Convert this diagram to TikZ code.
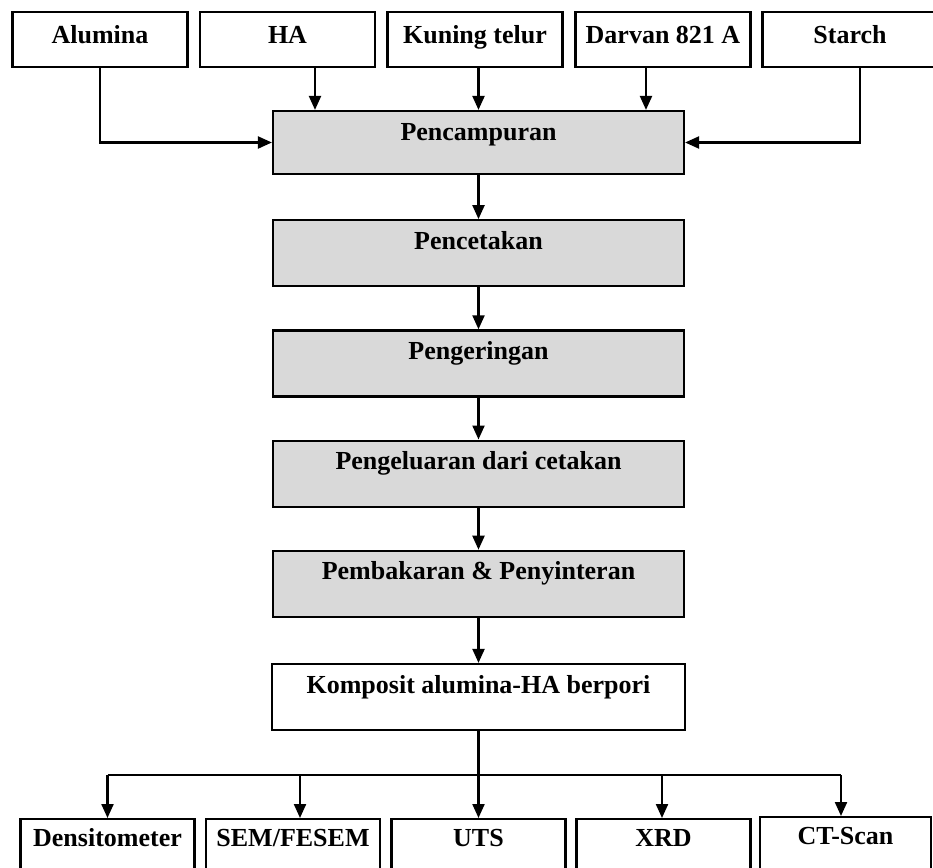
\documentclass[tikz,border=0pt]{standalone}
\usepackage{fontspec}
\setmainfont{Liberation Serif}
\usetikzlibrary{positioning, arrows.meta, calc}
\tikzset{
    box/.style = {draw, line width=1.1pt, minimum height=0pt, inner ysep=0pt, font=\fontsize{13}{15}\selectfont\bfseries},
}
\tikzset{
    bahan/.style = {box, minimum width=87.5pt, text height=15.5pt, text depth=12pt},
    proses/.style = {box, fill=black!15, minimum width=205.5pt, text height=14.5pt, text depth=18.5pt},
    uji/.style = {box, anchor=north, minimum width=87pt, text height=13.5pt, text depth=30pt},
    alir/.style = {draw, line width=1.1pt, -{Triangle[length=7pt, width=6pt]}},
}

\begin{document}
\begin{tikzpicture}[x=0.5pt, y=-0.5pt, node distance=21pt]
            \clip (0,0) rectangle (933,868);
            \node[bahan] (al) at (100,39.5) {Alumina};
            \node[bahan] (ha) at (287.5,39.5) {HA};
            \node[bahan] (kt) at (475,39.5) {Kuning telur};
            \node[bahan] (dv) at (663,39.5) {Darvan 821 A};
            \node[bahan] (st) at (850,39.5) {Starch};

            \node[proses, text depth=17pt] (mix) at (478.5,142.5) {Pencampuran};
            \node[proses, below=22pt of mix] (cast) {Pencetakan};
            \node[proses, below=of cast] (dry) {Pengeringan};
            \node[proses, below=of dry] (lepas) {Pengeluaran dari cetakan};
            \node[proses, below=of lepas] (sinter) {Pembakaran \& Penyinteran};
            \node[proses, fill=white, minimum width=206.5pt, below=22.5pt of sinter] (komp) {Komposit alumina-HA berpori};

            \node[uji] (dens) at (107.5,818) {Densitometer};
            \node[uji] (sem) at (293,818) {SEM/FESEM};
            \node[uji] (uts) at (478.5,818) {UTS};
            \node[uji] (xrd) at (663.5,818) {XRD};
            \node[uji, minimum width=85.5pt] (ct) at (845.5,816) {CT-Scan};

            % bahan masuk ke pencampuran
            \draw[alir] (al.south) |- (mix.west);
            \draw[alir] ($(ha.south)+(27.5,0)$) coordinate (h) -- (h |- mix.north);
            \draw[alir] (kt.south -| mix.north) -- (mix.north);
            \draw[alir] ($(dv.south)+(-17,0)$) coordinate (d) -- (d |- mix.north);
            \draw[alir] ($(st.south)+(10,0)$) |- (mix.east);

            \draw[alir] (mix) -- (cast);
            \draw[alir] (cast) -- (dry);
            \draw[alir] (dry) -- (lepas);
            \draw[alir] (lepas) -- (sinter);
            \draw[alir] (sinter) -- (komp);
            \draw[alir] (komp.south) -- (uts.north);

            % pengujian
            \coordinate (bus) at ($(komp.south)+(0,44)$);
            \coordinate (ujung) at ($(ct.north)+(-4.5,0)$);
            \draw[line width=1.1pt] (bus -| dens.north) -- (bus -| ujung);
            \foreach \n/\dx in {dens/0, sem/7, xrd/-1.5, ct/-4.5}
                \draw[alir] ($(\n.north)+(\dx,0)$) coordinate (t) ++(0,0) (bus -| t) -- (t);
        \end{tikzpicture}
\end{document}
